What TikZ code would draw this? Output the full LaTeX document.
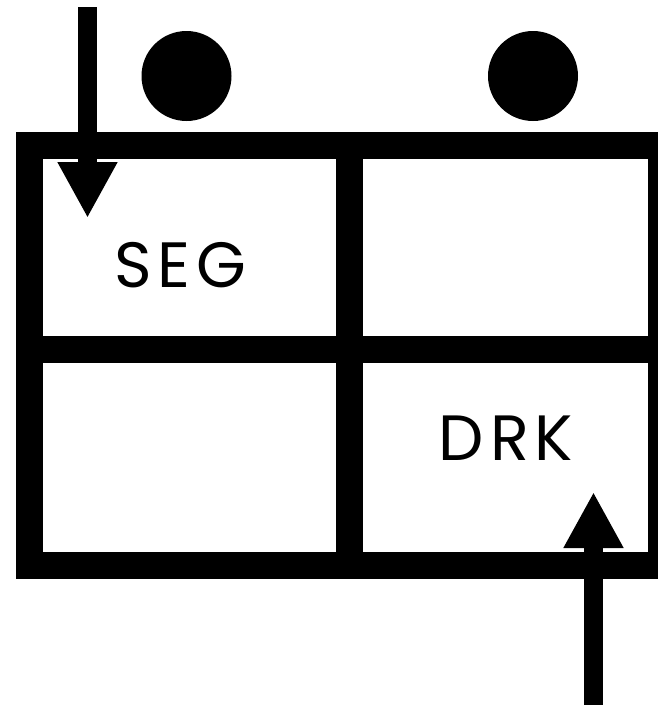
\documentclass[tikz,border=0pt]{standalone}
\usepackage{fontspec}
\newfontfamily\cellfont[LetterSpace=9]{Poppins}
\usetikzlibrary{arrows.meta}

\begin{document}
\begin{tikzpicture}[x=1pt,y=-1pt,line join=miter,
  wall/.style={line width=27pt},
  flow/.style={line width=19pt,-{Triangle[width=56pt,length=56pt]}},
  cell/.style={font=\cellfont\fontsize{64}{64}\selectfont,inner sep=0pt}]
  \useasboundingbox (0,0) rectangle (658,705);
  % frame and cells
  \draw[wall] (29.5,145.5) rectangle (661.5,565);
  \draw[wall] (29.5,349.5)--(661.5,349.5);
  \draw[wall] (349.5,145.5)--(349.5,565);
  % spots
  \fill (186.5,76) circle (45);
  \fill (533,76) circle (45);
  % labels
  \node[cell] (seg) at (180,265.5) {SEG};
  \node[cell] (drk) at (506,438.5) {DRK};
  % arrows
  \coordinate (inTop) at (87.5,7);
  \coordinate (inTip) at (87.5,218);
  \coordinate (outBot) at (593.5,705);
  \coordinate (outTip) at (593.5,492);
  \draw[flow] (inTop)--(inTip);
  \draw[flow] (outBot)--(outTip);
\end{tikzpicture}
\end{document}
